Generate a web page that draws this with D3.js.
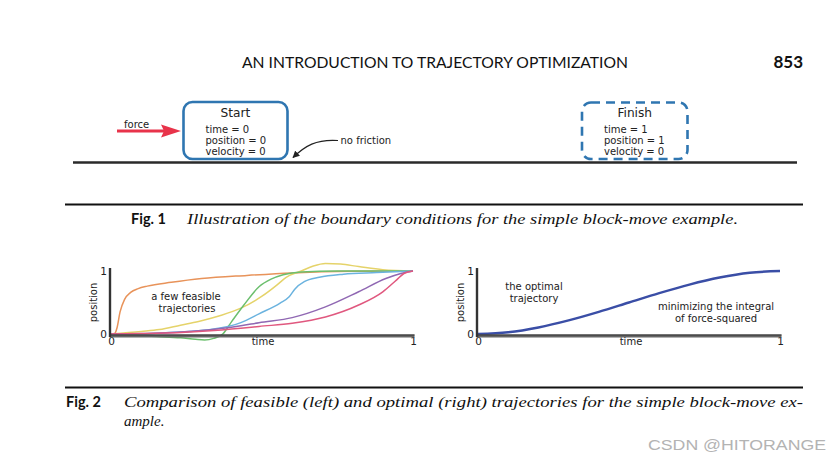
<!DOCTYPE html>
<html>
<head>
<meta charset="utf-8">
<script src="https://cdn.jsdelivr.net/npm/d3@7"></script>
<style>
  html, body { margin: 0; padding: 0; background: #fff; }
  svg { display: block; }
</style>
</head>
<body>
<svg id="chart" width="840" height="461"></svg>
<script>
// ---------------- data ----------------
const headerTitle = "AN INTRODUCTION TO TRAJECTORY OPTIMIZATION";
const pageNumber = "853";
const startLines = ["time = 0", "position = 0", "velocity = 0"];
const finishLines = ["time = 1", "position = 1", "velocity = 0"];
const fig1Caption = "Illustration of the boundary conditions for the simple block-move example.";
const fig2CaptionLines = ["Comparison of feasible (left) and optimal (right) trajectories for the simple block-move ex-", "ample."];
const tickValues = [0, 1];
const tickLabels = ["0", "1"];

const feasibleNames = ["orange", "yellow", "green", "blue", "purple", "pink"];
const feasibleColors = ["#e8935a", "#e5d36a", "#6cbf6e", "#6bb3df", "#9068b3", "#e0587f"];
const orangeT = [0, 0.012, 0.02, 0.03, 0.045, 0.065, 0.09, 0.12, 0.2, 0.3, 0.45, 0.6, 0.8, 1];
const orangeV = [0, 0.01, 0.1, 0.35, 0.55, 0.66, 0.72, 0.76, 0.82, 0.88, 0.93, 0.97, 0.995, 1];
const yellowT = [0, 0.1, 0.16, 0.23, 0.29, 0.36, 0.43, 0.5, 0.55, 0.58, 0.63, 0.67, 0.71, 0.76, 0.82, 0.9, 1];
const yellowV = [0, 0.04, 0.07, 0.14, 0.2, 0.29, 0.41, 0.6, 0.78, 0.9, 1.0, 1.08, 1.12, 1.11, 1.07, 1.02, 1];
const greenT = [0, 0.07, 0.15, 0.23, 0.28, 0.31, 0.34, 0.37, 0.4, 0.44, 0.49, 0.53, 0.57, 0.63, 0.75, 1];
const greenV = [0, -0.02, -0.04, -0.06, -0.085, -0.095, -0.07, 0, 0.2, 0.46, 0.75, 0.87, 0.94, 0.985, 1, 1];
const blueT = [0, 0.1, 0.18, 0.26, 0.33, 0.43, 0.49, 0.56, 0.59, 0.61, 0.64, 0.69, 0.77, 0.88, 1];
const blueV = [0, 0.005, 0.02, 0.04, 0.07, 0.18, 0.32, 0.49, 0.59, 0.72, 0.83, 0.9, 0.95, 0.975, 1];
const purpleT = [0, 0.15, 0.29, 0.43, 0.49, 0.6, 0.71, 0.82, 0.91, 0.96, 1];
const purpleV = [0, 0.01, 0.05, 0.13, 0.18, 0.26, 0.43, 0.67, 0.88, 0.96, 1];
const pinkT = [0, 0.15, 0.29, 0.43, 0.49, 0.6, 0.71, 0.82, 0.9, 0.946, 0.97, 1];
const pinkV = [0, 0.01, 0.04, 0.09, 0.12, 0.17, 0.27, 0.46, 0.67, 0.86, 0.96, 1];

const optimalT = [0, 0.1, 0.2, 0.3, 0.4, 0.5, 0.6, 0.7, 0.8, 0.9, 1];
const optimalV = [0, 0.028, 0.104, 0.216, 0.352, 0.5, 0.648, 0.784, 0.896, 0.972, 1];

// ---------------- drawing ----------------
const svg = d3.select("#chart");
const SANS = "'DejaVu Sans', Verdana, sans-serif";
const HUM = "Lato, 'Open Sans', sans-serif";
const SERIF = "'Liberation Serif', 'DejaVu Serif', serif";

// header
svg.append("text").attr("x", 242).attr("y", 68)
  .attr("font-family", HUM).attr("font-size", 14.5).attr("fill", "#111")
  .attr("textLength", 386).attr("lengthAdjust", "spacingAndGlyphs")
  .text(headerTitle);
svg.append("text").attr("x", 803).attr("y", 68).attr("text-anchor", "end")
  .attr("font-family", HUM).attr("font-weight", "bold").attr("font-size", 17).attr("fill", "#111")
  .text(pageNumber);

// ---- Fig 1 illustration ----
const boxBlue = "#2f76b1";
// ground line
svg.append("line").attr("x1", 73).attr("x2", 797).attr("y1", 162.5).attr("y2", 162.5)
  .attr("stroke", "#2a2a2a").attr("stroke-width", 2.6);

function block(x, y, w, h, title, lines, dashed) {
  const g = svg.append("g");
  g.append("rect").attr("x", x).attr("y", y).attr("width", w).attr("height", h)
    .attr("rx", 9).attr("ry", 9).attr("fill", "#fff")
    .attr("stroke", boxBlue).attr("stroke-width", 2.6)
    .attr("stroke-dasharray", dashed ? "9,6" : null);
  g.append("text").attr("x", x + w / 2).attr("y", y + 14.5).attr("text-anchor", "middle")
    .attr("font-family", SANS).attr("font-size", 12.2).attr("fill", "#222").text(title);
  g.selectAll("text.l").data(lines).join("text").attr("class", "l")
    .attr("x", x + 22).attr("y", (d, i) => y + 30.5 + i * 11.2)
    .attr("font-family", SANS).attr("font-size", 10).attr("fill", "#222").text(d => d);
}
block(183.5, 102, 104, 57, "Start", startLines, false);
block(582, 102.5, 105.5, 56.5, "Finish", finishLines, true);

// force arrow
svg.append("line").attr("x1", 117).attr("x2", 166).attr("y1", 131).attr("y2", 131)
  .attr("stroke", "#e8334a").attr("stroke-width", 3);
svg.append("path").attr("d", "M181,131 L161,124.5 L164,131 L161,137.5 Z").attr("fill", "#e8334a");
svg.append("text").attr("x", 124).attr("y", 128).attr("font-family", SANS).attr("font-size", 10)
  .attr("fill", "#222").text("force");

// no friction arrow
svg.append("defs").append("marker").attr("id", "ah").attr("viewBox", "0 0 10 10")
  .attr("refX", 9).attr("refY", 5).attr("markerWidth", 7).attr("markerHeight", 7)
  .attr("orient", "auto").attr("markerUnits", "userSpaceOnUse")
  .append("path").attr("d", "M0,0 L10,5 L0,10 Z").attr("fill", "#222");
svg.append("path").attr("d", "M338,140.5 C316,139 305,146 293,157.5")
  .attr("fill", "none").attr("stroke", "#222").attr("stroke-width", 1.2)
  .attr("marker-end", "url(#ah)");
svg.append("text").attr("x", 340.5).attr("y", 144).attr("font-family", SANS).attr("font-size", 10)
  .attr("fill", "#222").text("no friction");

// rule + caption 1
svg.append("line").attr("x1", 65).attr("x2", 803).attr("y1", 204.5).attr("y2", 204.5)
  .attr("stroke", "#111").attr("stroke-width", 2.2);
svg.append("text").attr("x", 131).attr("y", 223.5).attr("font-family", HUM).attr("font-weight", "bold")
  .attr("font-size", 14.5).attr("fill", "#111").text("Fig. 1");
svg.append("text").attr("x", 187).attr("y", 223.5).attr("font-family", SERIF).attr("font-style", "italic")
  .attr("font-size", 15).attr("fill", "#111")
  .attr("textLength", 551).attr("lengthAdjust", "spacingAndGlyphs").text(fig1Caption);

// ---- Fig 2 plots ----
function makePanel(x0, x1) {
  const x = d3.scaleLinear().domain([0, 1]).range([x0, x1]);
  const y = d3.scaleLinear().domain([0, 1]).range([334, 271]);
  return { x, y };
}
const L = makePanel(111, 413);
const R = makePanel(478, 780);

function drawAxes(P, xLabelX) {
  const g = svg.append("g");
  // x axis
  const xa = g.append("g").attr("transform", "translate(0,336)")
    .call(d3.axisBottom(P.x).tickValues(tickValues).tickFormat((d, i) => tickLabels[i]).tickSize(0).tickPadding(2));
  xa.select(".domain").remove();
  xa.selectAll("text").attr("font-family", SANS).attr("font-size", 10.5).attr("fill", "#222");
  g.append("line").attr("x1", P.x(0) - 1.5).attr("x2", P.x(1) + 1.5).attr("y1", 336).attr("y2", 336)
    .attr("stroke", "#666").attr("stroke-width", 3);
  g.append("line").attr("x1", P.x(0) - 1.5).attr("x2", P.x(1) + 1.5).attr("y1", 335).attr("y2", 335)
    .attr("stroke", "#333").attr("stroke-width", 1);
  // y axis
  const ya = g.append("g").attr("transform", `translate(${P.x(0) - 1},0)`)
    .call(d3.axisLeft(P.y).tickValues(tickValues).tickFormat((d, i) => tickLabels[i]).tickSize(0).tickPadding(3));
  ya.select(".domain").remove();
  ya.selectAll("text").attr("font-family", SANS).attr("font-size", 10.5).attr("fill", "#222");
  g.append("line").attr("x1", P.x(0) - 1).attr("x2", P.x(0) - 1).attr("y1", P.y(1) - 3).attr("y2", 337)
    .attr("stroke", "#333").attr("stroke-width", 2.4);
  g.append("text").attr("x", xLabelX).attr("y", 344.5).attr("text-anchor", "middle")
    .attr("font-family", SANS).attr("font-size", 10).attr("fill", "#222").text("time");
  g.append("text").attr("transform", `translate(${P.x(0) - 14},${(P.y(0) + P.y(1)) / 2}) rotate(-90)`)
    .attr("text-anchor", "middle").attr("font-family", SANS).attr("font-size", 10).attr("fill", "#222")
    .text("position");
}

const feasibleSeries = [
  [orangeT, orangeV], [yellowT, yellowV], [greenT, greenV],
  [blueT, blueV], [purpleT, purpleV], [pinkT, pinkV]
];
const lineL = d3.line().x(d => L.x(d[0])).y(d => L.y(d[1])).curve(d3.curveMonotoneX);
svg.append("g").selectAll("path").data(feasibleSeries).join("path")
  .attr("d", s => lineL(s[0].map((t, i) => [t, s[1][i]])))
  .attr("fill", "none").attr("stroke", (s, i) => feasibleColors[i]).attr("stroke-width", 1.5)
  .attr("stroke-linejoin", "round");

drawAxes(L, 263);

svg.append("text").attr("x", 186).attr("y", 300).attr("text-anchor", "middle")
  .attr("font-family", SANS).attr("font-size", 10).attr("fill", "#222").text("a few feasible");
svg.append("text").attr("x", 187).attr("y", 311.5).attr("text-anchor", "middle")
  .attr("font-family", SANS).attr("font-size", 10).attr("fill", "#222").text("trajectories");

const lineR = d3.line().x(d => R.x(d[0])).y(d => R.y(d[1])).curve(d3.curveMonotoneX);
svg.append("path").attr("d", lineR(optimalT.map((t, i) => [t, optimalV[i]])))
  .attr("fill", "none").attr("stroke", "#3a4ea6").attr("stroke-width", 2.4);

drawAxes(R, 631);

svg.append("text").attr("x", 534).attr("y", 290).attr("text-anchor", "middle")
  .attr("font-family", SANS).attr("font-size", 10).attr("fill", "#222").text("the optimal");
svg.append("text").attr("x", 534).attr("y", 302).attr("text-anchor", "middle")
  .attr("font-family", SANS).attr("font-size", 10).attr("fill", "#222").text("trajectory");
svg.append("text").attr("x", 716).attr("y", 310).attr("text-anchor", "middle")
  .attr("font-family", SANS).attr("font-size", 10).attr("fill", "#222").text("minimizing the integral");
svg.append("text").attr("x", 716).attr("y", 321.5).attr("text-anchor", "middle")
  .attr("font-family", SANS).attr("font-size", 10).attr("fill", "#222").text("of force-squared");

// rule + caption 2
svg.append("line").attr("x1", 65).attr("x2", 803).attr("y1", 387.5).attr("y2", 387.5)
  .attr("stroke", "#111").attr("stroke-width", 2.2);
svg.append("text").attr("x", 66).attr("y", 407).attr("font-family", HUM).attr("font-weight", "bold")
  .attr("font-size", 14.5).attr("fill", "#111").text("Fig. 2");
svg.append("text").attr("x", 124).attr("y", 407).attr("font-family", SERIF).attr("font-style", "italic")
  .attr("font-size", 15).attr("fill", "#111")
  .attr("textLength", 679).attr("lengthAdjust", "spacingAndGlyphs").text(fig2CaptionLines[0]);
svg.append("text").attr("x", 124).attr("y", 426).attr("font-family", SERIF).attr("font-style", "italic")
  .attr("font-size", 15).attr("fill", "#111").text(fig2CaptionLines[1]);

// watermark
svg.append("text").attr("x", 648).attr("y", 449.5).attr("font-family", "'Liberation Sans', Arial, sans-serif")
  .attr("font-size", 15.5).attr("fill", "#b3b3b3")
  .attr("textLength", 178).attr("lengthAdjust", "spacingAndGlyphs").text("CSDN @HITORANGE");
</script>
</body>
</html>
